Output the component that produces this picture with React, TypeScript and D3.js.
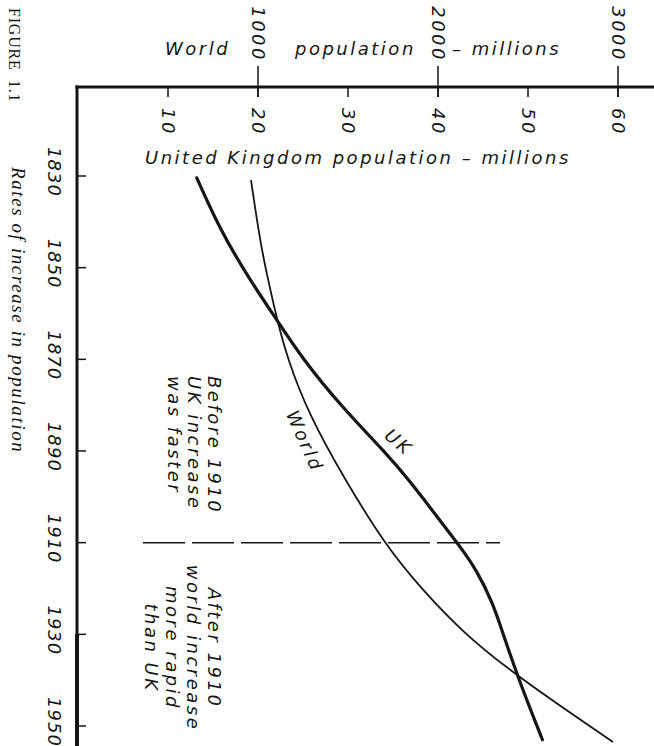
import React from "react";
import * as d3 from "d3";

// ---- data ----
const yearTicks = [1830, 1850, 1870, 1890, 1910, 1930, 1950];
const ukTicks = [10, 20, 30, 40, 50, 60];
const worldTicks = [1000, 2000, 3000];

const ukYears = [1830.4, 1841.8, 1852.7, 1861.4, 1869.5, 1880.4, 1890.4, 1895.9, 1905.1, 1910.7, 1916, 1923.2, 1929.7, 1939.5, 1953];
const ukPop = [13.2, 15.8, 19.1, 22.1, 24.8, 29.3, 34.2, 36.6, 40.2, 42.4, 44.3, 46.1, 47.2, 48.9, 51.6];

const worldYears = [1830.9, 1844, 1850.5, 1861.4, 1869.5, 1881.7, 1896.3, 1910.7, 1919.7, 1929.7, 1939.5, 1953.5];
const worldPop = [961, 1011, 1044, 1106, 1161, 1278, 1483, 1711, 1900, 2139, 2450, 2972];

const beforeLines = ["Before 1910", "UK increase", "was faster"];
const afterLines = ["After 1910", "world increase", "more rapid", "than UK"];

const W = 654;
const H = 746;

const LET = "'DejaVu Sans', sans-serif";
const INK = "#151515";

export default function App() {
  const yScale = d3.scaleLinear().domain([1830, 1950]).range([176, 726]);
  const xUK = d3.scaleLinear().domain([0, 60]).range([78, 618]);
  const xWorld = d3.scaleLinear().domain([0, 3000]).range([78, 618]);

  const ukLine = d3
    .line<[number, number]>()
    .x((d) => xUK(d[1]))
    .y((d) => yScale(d[0]))
    .curve(d3.curveBasis);
  const worldLine = d3
    .line<[number, number]>()
    .x((d) => xWorld(d[1]))
    .y((d) => yScale(d[0]))
    .curve(d3.curveBasis);

  const ukData: [number, number][] = ukYears.map((y, i) => [y, ukPop[i]]);
  const worldData: [number, number][] = worldYears.map((y, i) => [y, worldPop[i]]);

  const axisX = 77;
  const axisY = 87;
  const y1910 = yScale(1910);

  const letter = {
    fontFamily: LET,
    fontStyle: "italic" as const,
    fontSize: 18,
    letterSpacing: 2.5,
    fill: INK,
  };

  return (
    <svg
      width={W}
      height={H}
      viewBox={`0 0 ${W} ${H}`}
      style={{ position: "absolute", left: 0, top: 0, background: "#fff", display: "block" }}
    >
      <rect x={0} y={0} width={W} height={H} fill="#fff" />

      {/* caption */}
      <text
        transform={`translate(9, 8) rotate(90)`}
        fontFamily="'Liberation Serif', serif"
        fontSize={16}
        letterSpacing={0.8}
        fill={INK}
      >
        FIGURE
      </text>
      <text
        transform={`translate(9, 80) rotate(90)`}
        fontFamily="'Liberation Serif', serif"
        fontSize={16}
        letterSpacing={0.8}
        fill={INK}
      >
        1.1
      </text>
      <text
        transform={`translate(12, 167) rotate(90)`}
        fontFamily="'Liberation Serif', serif"
        fontStyle="italic"
        fontSize={19}
        letterSpacing={1.6}
        fill={INK}
      >
        Rates of increase in population
      </text>

      {/* axes frame */}
      <line x1={axisX} y1={axisY - 1.5} x2={axisX} y2={H} stroke={INK} strokeWidth={3} />
      <line x1={axisX - 1.5} y1={axisY} x2={W} y2={axisY} stroke={INK} strokeWidth={3} />
      <line x1={axisX} y1={yScale(1930)} x2={axisX} y2={H} stroke={INK} strokeWidth={4} />

      {/* year ticks & labels */}
      {yearTicks.map((yr) => (
        <g key={yr}>
          <line x1={axisX} x2={axisX + 9} y1={yScale(yr)} y2={yScale(yr)} stroke={INK} strokeWidth={1.5} />
          <text
            transform={`translate(54, ${yScale(yr) - 4}) rotate(90)`}
            textAnchor="middle"
            dominantBaseline="central"
            {...letter}
            letterSpacing={1}
          >
            {yr}
          </text>
        </g>
      ))}

      {/* UK ticks & labels */}
      {ukTicks.map((v) => (
        <g key={v}>
          <line x1={xUK(v)} x2={xUK(v)} y1={axisY} y2={axisY + 10} stroke={INK} strokeWidth={1.5} />
          <text
            transform={`translate(${xUK(v)}, 122) rotate(90)`}
            textAnchor="middle"
            dominantBaseline="central"
            {...letter}
          >
            {v}
          </text>
        </g>
      ))}

      {/* World ticks & labels */}
      {worldTicks.map((v) => (
        <g key={v}>
          <line x1={xWorld(v)} x2={xWorld(v)} y1={66} y2={axisY + 10} stroke={INK} strokeWidth={1.5} />
          <text
            transform={`translate(${xWorld(v)}, 62) rotate(90)`}
            textAnchor="end"
            dominantBaseline="central"
            {...letter}
          >
            {v}
          </text>
        </g>
      ))}

      {/* axis titles */}
      <text x={165} y={55} {...letter}>World</text>
      <text x={295} y={55} {...letter}>population</text>
      <text x={452} y={55} {...letter}>– millions</text>
      <text x={145} y={164} {...letter}>United Kingdom population – millions</text>

      {/* 1910 dashed line */}
      <line
        x1={143}
        x2={500}
        y1={y1910}
        y2={y1910}
        stroke={INK}
        strokeWidth={1.5}
        strokeDasharray="42,7"
      />

      {/* series */}
      <path d={worldLine(worldData) || ""} fill="none" stroke={INK} strokeWidth={1.8} />
      <path d={ukLine(ukData) || ""} fill="none" stroke={INK} strokeWidth={3.2} strokeLinecap="round" />

      {/* series labels */}
      <text transform={`translate(399, 442) rotate(40)`} textAnchor="middle" dominantBaseline="central" {...letter}>
        UK
      </text>
      <text transform={`translate(305, 441) rotate(66)`} textAnchor="middle" dominantBaseline="central" {...letter}>
        World
      </text>

      {/* annotations */}
      {beforeLines.map((t, i) => (
        <text key={t} transform={`translate(${208 - i * 20}, 376) rotate(90)`} {...letter}>
          {t}
        </text>
      ))}
      {afterLines.map((t, i) => (
        <text key={t} transform={`translate(${208 - i * 21}, 648) rotate(90)`} textAnchor="middle" {...letter}>
          {t}
        </text>
      ))}
    </svg>
  );
}
